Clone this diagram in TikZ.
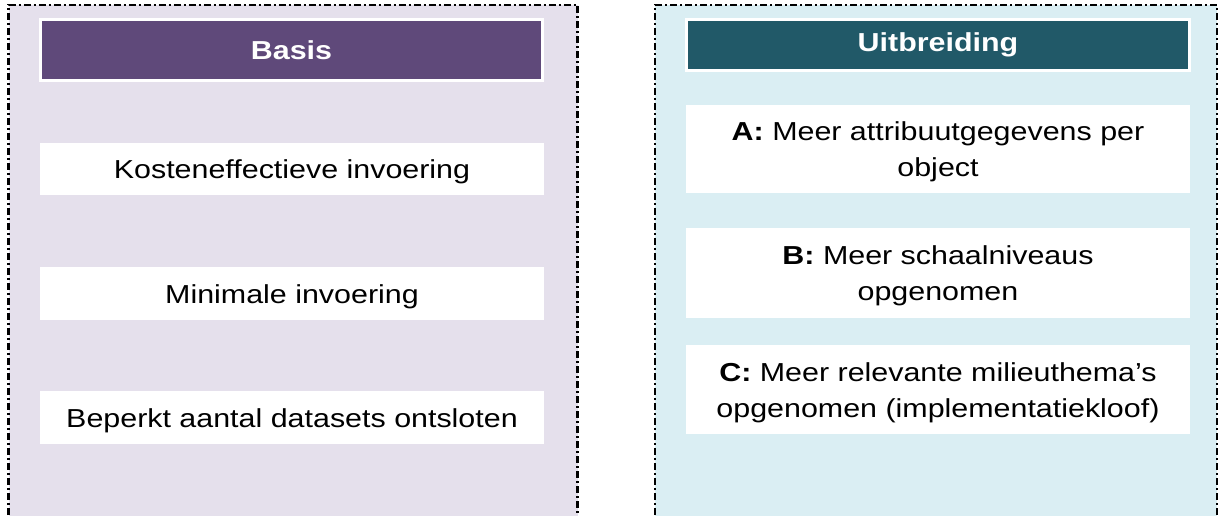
\documentclass[tikz,border=0pt]{standalone}
\usepackage{fontspec}
\setmainfont{Liberation Sans}[FakeStretch=1.17]
\definecolor{lavbg}{HTML}{E5E0EC}
\definecolor{bluebg}{HTML}{DAEEF3}
\definecolor{purphead}{HTML}{5F497A}
\definecolor{tealhead}{HTML}{215968}
\tikzset{
  panelborder/.style={line width=2.2pt, dash pattern=on 7pt off 3pt on 2pt off 3pt},
  headbox/.style={draw=white, line width=3pt, text=white, font=\fontsize{26}{30}\selectfont\bfseries, inner sep=0pt},
  itembox/.style={fill=white, inner sep=0pt},
  itemtext/.style={inner sep=0pt, align=center, font=\fontsize{26}{36}\selectfont, text=black, yshift=-3pt},
}
\begin{document}
\begin{tikzpicture}[x=1pt,y=-1pt]
\useasboundingbox (0,0) rectangle (1224,516);
\clip (0,0) rectangle (1224,516);
% panels
\fill[lavbg] (8.5,5) rectangle (577.5,530);
\draw[panelborder] (8.5,530) -- (8.5,5) -- (577.5,5) -- (577.5,530);
\fill[bluebg] (655,5) rectangle (1217,530);
\draw[panelborder] (655,530) -- (655,5) -- (1217,5) -- (1217,530);
% headers
\node[headbox, fill=purphead, minimum width=502pt, minimum height=61pt] (basis) at (291.5,50) {Basis};
\node[headbox, fill=tealhead, minimum width=503pt, minimum height=51pt] (uitb) at (938,45) {Uitbreiding};
% left items
\node[itembox, minimum width=504pt, minimum height=52pt] (k1) at (292,169) {};
\node[itemtext] (k1t) at (k1.center) {Kosteneffectieve invoering};
\node[itembox, minimum width=504pt, minimum height=53pt] (k2) at (292,293.5) {};
\node[itemtext] (k2t) at (k2.center) {Minimale invoering};
\node[itembox, minimum width=504pt, minimum height=53pt] (k3) at (292,417.5) {};
\node[itemtext] (k3t) at (k3.center) {Beperkt aantal datasets ontsloten};
% right items
\node[itembox, minimum width=504pt, minimum height=88pt] (ra) at (938,149) {};
\node[itemtext] (rat) at (ra.center) {\textbf{A:} Meer attribuutgegevens per\\object};
\node[itembox, minimum width=504pt, minimum height=90pt] (rb) at (938,273) {};
\node[itemtext] (rbt) at (rb.center) {\textbf{B:} Meer schaalniveaus\\opgenomen};
\node[itembox, minimum width=504pt, minimum height=89pt] (rc) at (938,389.5) {};
\node[itemtext] (rct) at (rc.center) {\textbf{C:} Meer relevante milieuthema’s\\opgenomen (implementatiekloof)};
\end{tikzpicture}
\end{document}
